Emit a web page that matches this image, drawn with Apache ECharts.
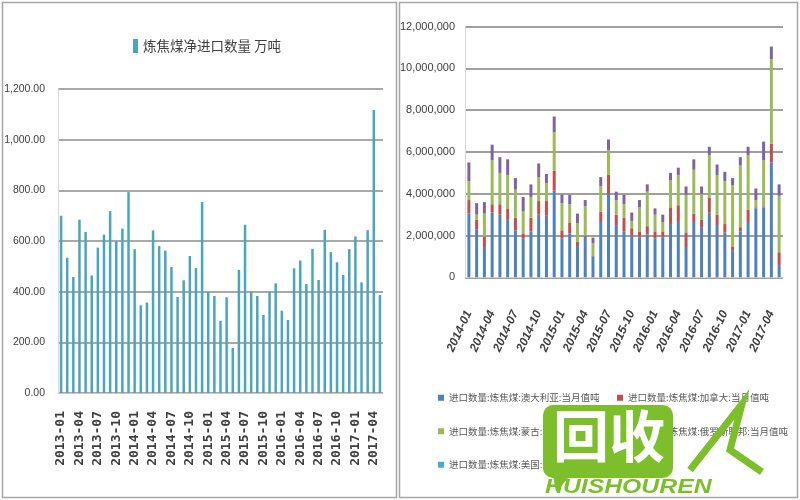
<!DOCTYPE html>
<html><head><meta charset="utf-8">
<script src="https://cdn.jsdelivr.net/npm/echarts@6/dist/echarts.min.js"></script>
<style>html,body{margin:0;padding:0;background:#fff}#c{width:800px;height:500px}</style>
</head><body><div id="c"></div>
<script>
// ---------- left chart data ----------
const leftName = '炼焦煤净进口数量 万吨';
const leftMonths = ['2013-01','2013-02','2013-03','2013-04','2013-05','2013-06','2013-07','2013-08','2013-09','2013-10','2013-11','2013-12',
  '2014-01','2014-02','2014-03','2014-04','2014-05','2014-06','2014-07','2014-08','2014-09','2014-10','2014-11','2014-12',
  '2015-01','2015-02','2015-03','2015-04','2015-05','2015-06','2015-07','2015-08','2015-09','2015-10','2015-11','2015-12',
  '2016-01','2016-02','2016-03','2016-04','2016-05','2016-06','2016-07','2016-08','2016-09','2016-10','2016-11','2016-12',
  '2017-01','2017-02','2017-03','2017-04','2017-05'];
const leftValues = [700,534,458,684,636,464,574,625,718,600,649,793,
  568,346,357,642,580,562,497,379,445,541,493,754,
  400,383,285,378,178,486,664,400,383,308,400,433,
  325,288,492,523,430,569,446,644,556,516,466,568,
  618,437,643,1117,387];
const leftTicks = [0,200,400,600,800,1000,1200];

// ---------- right chart data ----------
const rightMonths = ['2014-01','2014-02','2014-03','2014-04','2014-05','2014-06','2014-07','2014-08','2014-09','2014-10','2014-11','2014-12',
  '2015-01','2015-02','2015-03','2015-04','2015-05','2015-06','2015-07','2015-08','2015-09','2015-10','2015-11','2015-12',
  '2016-01','2016-02','2016-03','2016-04','2016-05','2016-06','2016-07','2016-08','2016-09','2016-10','2016-11','2016-12',
  '2017-01','2017-02','2017-03','2017-04','2017-05'];
const rightNames = ['进口数量:炼焦煤:澳大利亚:当月值吨','进口数量:炼焦煤:加拿大:当月值吨','进口数量:炼焦煤:蒙古:当月值吨','进口数量:炼焦煤:俄罗斯联邦:当月值吨','进口数量:炼焦煤:美国:当月值吨'];
const australia = [3050000,2300000,1450000,3100000,3000000,2750000,2250000,1850000,2200000,3000000,2950000,4150000,
  1850000,2100000,1500000,1950000,1000000,2650000,4000000,2500000,2200000,2000000,1900000,2050000,
  1850000,1900000,2550000,2650000,1450000,2650000,2400000,3100000,2500000,2150000,1300000,2200000,
  2650000,3300000,3350000,5500000,550000];
const canada = [650000,450000,500000,400000,500000,550000,600000,250000,650000,650000,700000,950000,
  400000,500000,200000,50000,20000,500000,900000,500000,650000,350000,300000,400000,
  350000,300000,800000,800000,700000,400000,350000,700000,500000,400000,150000,200000,
  600000,50000,50000,900000,650000];
const mongolia = [900000,250000,1100000,2100000,1500000,1600000,1350000,1050000,1000000,1150000,850000,1850000,
  1300000,900000,900000,1400000,600000,1200000,1200000,700000,650000,350000,1150000,1650000,
  800000,450000,1300000,1450000,1800000,2100000,1250000,2050000,1900000,2050000,2950000,2950000,
  2600000,350000,2200000,4050000,2700000];
const russia = [900000,550000,550000,750000,750000,750000,550000,700000,600000,650000,450000,750000,
  400000,450000,450000,300000,280000,450000,500000,400000,450000,400000,350000,350000,
  300000,350000,350000,350000,400000,500000,350000,400000,500000,450000,350000,400000,
  400000,550000,900000,600000,550000];
const usa = [0,0,0,0,0,0,0,0,0,0,0,0,
  0,0,0,0,0,0,0,0,0,0,0,0,
  0,0,0,0,0,0,0,0,0,0,0,0,
  0,0,0,0,0];
const rightTicks = [0,2000000,4000000,6000000,8000000,10000000,12000000];
const rightColors = ['#4f81bd','#c0504d','#9bbb59','#8064a2','#4bacc6'];

function fmt(v, dec) {
  const s = Number(v).toFixed(dec);
  const parts = s.split('.');
  parts[0] = parts[0].replace(/\B(?=(\d{3})+(?!\d))/g, ',');
  return parts.join('.');
}

const chart = echarts.init(document.getElementById('c'), null, {renderer: 'canvas'});
const rightSeriesData = [australia, canada, mongolia, russia, usa];

const option = {
  animation: false,
  backgroundColor: '#fff',
  grid: [
    {left: 58, top: 89, width: 325, height: 304},
    {left: 465, top: 26.7, width: 318, height: 250.6}
  ],
  legend: [
    {data: [leftName], left: 128, top: 34, icon: 'rect', itemWidth: 5, itemHeight: 14,
     textStyle: {fontSize: 13.5, color: '#404040', fontFamily: 'Noto Sans CJK SC'}},
    {data: [rightNames[0], rightNames[2], rightNames[4]], orient: 'vertical', left: 433, top: 388,
     icon: 'rect', itemWidth: 6, itemHeight: 6, itemGap: 24,
     textStyle: {fontSize: 9.5, color: '#595959', fontFamily: 'Noto Sans CJK SC'}},
    {data: [rightNames[1], rightNames[3]], orient: 'vertical', left: 612, top: 388,
     icon: 'rect', itemWidth: 6, itemHeight: 6, itemGap: 24,
     textStyle: {fontSize: 9.5, color: '#595959', fontFamily: 'Noto Sans CJK SC'}}
  ],
  xAxis: [
    {type: 'category', gridIndex: 0, data: leftMonths, boundaryGap: true,
     axisLine: {lineStyle: {color: '#d8c4c4'}},
     axisTick: {interval: 2, length: 4, lineStyle: {color: '#c8a8a8'}},
     axisLabel: {interval: 2, rotate: 90, margin: 18, fontSize: 13, fontWeight: 'bold',
       fontFamily: 'DejaVu Sans Mono', color: '#404040'}},
    {type: 'category', gridIndex: 1, data: rightMonths, boundaryGap: true,
     axisLine: {lineStyle: {color: '#d9d9d9'}},
     axisTick: {interval: 2, length: 4, lineStyle: {color: '#bfbfbf'}},
     axisLabel: {interval: 2, rotate: 65, margin: 34, fontSize: 12, fontWeight: 'bold', fontStyle: 'italic',
       fontFamily: 'Liberation Sans', color: '#404040'}}
  ],
  yAxis: [
    {type: 'value', gridIndex: 0, min: leftTicks[0], max: leftTicks[leftTicks.length - 1], interval: 200,
     axisLine: {show: true, lineStyle: {color: '#d9d9d9'}},
     axisTick: {show: false},
     splitLine: {lineStyle: {color: '#8c8c8c', width: 1.5}},
     axisLabel: {formatter: v => fmt(v, 2), fontSize: 10.5, color: '#404040', margin: 13,
       fontFamily: 'Liberation Sans Narrow, Liberation Sans'}},
    {type: 'value', gridIndex: 1, min: rightTicks[0], max: rightTicks[rightTicks.length - 1], interval: 2000000,
     axisLine: {show: true, lineStyle: {color: '#d9d9d9'}},
     axisTick: {show: false},
     splitLine: {lineStyle: {color: '#7f7f7f', width: 1.5}},
     axisLabel: {formatter: v => fmt(v, 0), fontSize: 11, color: '#404040', margin: 10,
       fontFamily: 'Liberation Sans Narrow, Liberation Sans'}}
  ],
  series: [
    {name: leftName, type: 'bar', xAxisIndex: 0, yAxisIndex: 0, data: leftValues, barWidth: 2.5,
     itemStyle: {color: '#4aa6bb'}}
  ].concat(rightNames.map((n, i) => ({
    name: n, type: 'bar', stack: 'imp', xAxisIndex: 1, yAxisIndex: 1,
    data: rightSeriesData[i], barWidth: 3, itemStyle: {color: rightColors[i]}
  }))),
  graphic: [
    {type: 'rect', shape: {x: 2.5, y: 2.5, width: 394, height: 495}, style: {fill: 'none', stroke: '#a6a6a6', lineWidth: 1.5}, z: 100},
    {type: 'rect', shape: {x: 399.5, y: 2.5, width: 398, height: 495}, style: {fill: 'none', stroke: '#a6a6a6', lineWidth: 1.5}, z: 100},
    // watermark
    {type: 'rect', shape: {x: 543, y: 405, width: 130, height: 73, r: 10}, style: {fill: '#7cbf2b'}, z: 200},
    {type: 'polygon', shape: {points: [[552, 470], [575, 470], [556, 492]]}, style: {fill: '#7cbf2b'}, z: 200},
    {type: 'text', left: 553, top: 408, style: {text: '回收', fill: '#ffffff', fontSize: 56, fontWeight: 'bold', fontFamily: 'Noto Sans CJK SC'}, z: 201},
    {type: 'polyline', shape: {points: [[690, 470], [742, 404], [730, 450], [762, 472]]}, style: {stroke: '#7cbf2b', lineWidth: 7, fill: 'none'}, z: 200},
    {type: 'text', x: 545, y: 477, scaleX: 1.18, style: {text: 'HUISHOUREN', fill: '#7cbf2b', fontSize: 21, fontWeight: 'bold', fontStyle: 'italic', fontFamily: 'Liberation Sans'}, z: 201}
  ]
};
chart.setOption(option);
</script>
</body></html>
